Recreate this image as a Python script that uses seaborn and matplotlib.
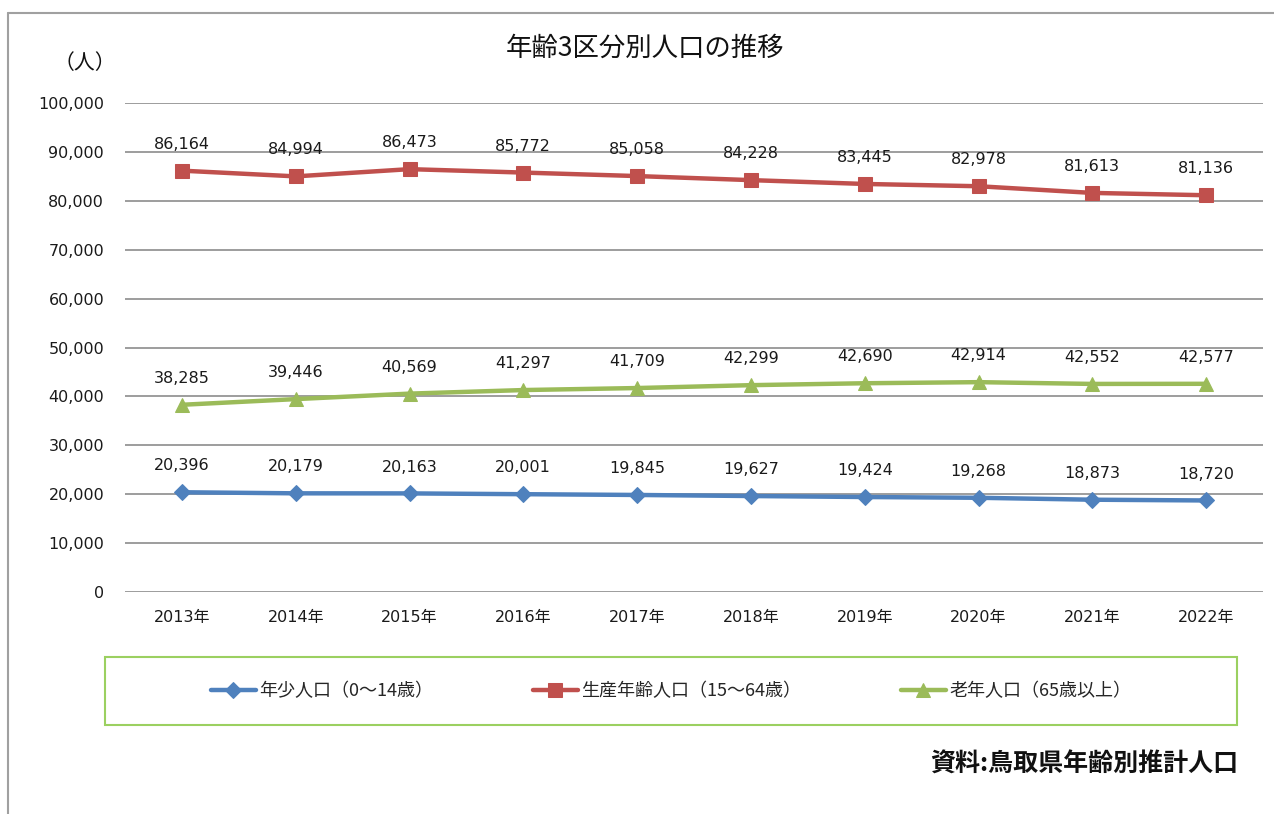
import matplotlib
matplotlib.use("Agg")
import matplotlib.pyplot as plt
import matplotlib.lines as mlines
import matplotlib.patches as mpatches
import seaborn as sns
import pandas as pd
from matplotlib.ticker import FuncFormatter

# ---------------------
# Data
# ---------------------
years = ["2013年", "2014年", "2015年", "2016年", "2017年",
         "2018年", "2019年", "2020年", "2021年", "2022年"]
young = [20396, 20179, 20163, 20001, 19845, 19627, 19424, 19268, 18873, 18720]
working = [86164, 84994, 86473, 85772, 85058, 84228, 83445, 82978, 81613, 81136]
elderly = [38285, 39446, 40569, 41297, 41709, 42299, 42690, 42914, 42552, 42577]

series_names = ["年少人口（0～14歳）", "生産年齢人口（15～64歳）", "老年人口（65歳以上）"]
colors = ["#4F81BD", "#C0504D", "#9BBB59"]
markers = ["D", "s", "^"]
marker_sizes = [8, 10, 10]

sns.set_style("white")
# digits from DejaVu (wide, like the original), Japanese from Noto CJK
num_font = ["DejaVu Sans", "Noto Sans CJK JP"]
jp_font = ["Noto Sans CJK JP", "DejaVu Sans"]
plt.rcParams["font.family"] = num_font

df = pd.DataFrame({"year": years, series_names[0]: young,
                   series_names[1]: working, series_names[2]: elderly})
long_df = df.melt(id_vars="year", var_name="series", value_name="pop")

fig = plt.figure(figsize=(12.74, 8.14), dpi=100)
ax = fig.add_axes([125 / 1274, 1 - 592 / 814, 1138 / 1274, 489 / 814])

for name, col, mk, ms in zip(series_names, colors, markers, marker_sizes):
    sub = long_df[long_df["series"] == name]
    sns.lineplot(data=sub, x="year", y="pop", ax=ax, color=col, linewidth=3.2,
                 marker=mk, markersize=ms, markeredgecolor=col, sort=False,
                 label=name, legend=False)
    for x, v in zip(sub["year"], sub["pop"]):
        ax.annotate(f"{v:,}", (x, v), xytext=(0, 19), textcoords="offset points",
                    ha="center", va="center", fontsize=11.5, color="#1a1a1a")

ax.set_xlim(-0.5, len(years) - 0.5)
ax.set_ylim(0, 100000)
ax.set_yticks(range(0, 100001, 10000))
ax.yaxis.set_major_formatter(FuncFormatter(lambda v, p: f"{int(v):,}"))
ax.grid(axis="y", color="#8c8c8c", linewidth=1.2)
ax.set_axisbelow(True)
for s in ax.spines.values():
    s.set_visible(False)
ax.tick_params(axis="both", length=0, labelsize=11.5, colors="#1a1a1a")
ax.tick_params(axis="x", pad=13)
ax.tick_params(axis="y", pad=15)
ax.set_xlabel("")
ax.set_ylabel("")

# titles and notes
fig.text(645 / 1274, 1 - 48 / 814, "年齢3区分別人口の推移", ha="center", va="center",
         fontsize=19, color="#111111", family=jp_font)
fig.text(85 / 1274, 1 - 63 / 814, "（人）", ha="center", va="center",
         fontsize=15, color="#111111", family=jp_font)
fig.text(1238 / 1274, 1 - 765 / 814, "資料:鳥取県年齢別推計人口", ha="right", va="center",
         fontsize=18, fontweight="bold", color="#111111", family=jp_font)

# outer frame (left and top edges)
fig.add_artist(mlines.Line2D([8 / 1274, 8 / 1274], [0, 1 - 13 / 814],
                             transform=fig.transFigure, color="#a0a0a0", linewidth=1.5))
fig.add_artist(mlines.Line2D([8 / 1274, 1], [1 - 13 / 814, 1 - 13 / 814],
                             transform=fig.transFigure, color="#a0a0a0", linewidth=1.5))

# legend box
fig.add_artist(mpatches.Rectangle((105 / 1274, 1 - 725 / 814), 1132 / 1274, 68 / 814,
                                  transform=fig.transFigure, fill=False,
                                  edgecolor="#9BD060", linewidth=1.5))
handles, labels = ax.get_legend_handles_labels()
leg = fig.legend(handles, labels, loc="center", ncol=3,
                 bbox_to_anchor=(671 / 1274, 1 - 691 / 814),
                 frameon=False, handlelength=2.5, handletextpad=0.2,
                 columnspacing=5.5, prop={"family": jp_font, "size": 13})

fig.savefig("out.png", dpi=100)
